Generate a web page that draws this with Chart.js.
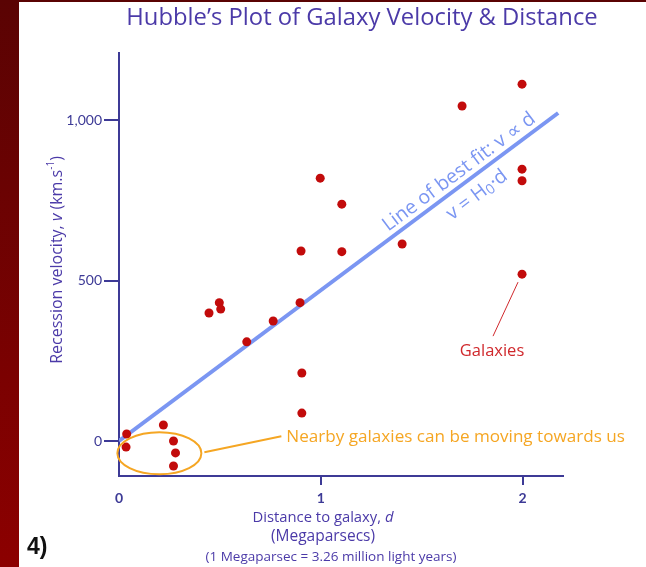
<!DOCTYPE html>
<html>
<head>
<meta charset="utf-8">
<script src="https://cdn.jsdelivr.net/npm/chart.js@4.4.0/dist/chart.umd.min.js"></script>
<style>
  html, body { margin: 0; padding: 0; background: #fff; overflow: hidden; }
  #wrap { position: relative; width: 646px; height: 567px; }
  #side { position: absolute; left: 0; top: 0; width: 19px; height: 567px; background: linear-gradient(#5a0303, #8c0000); }
  #topbar { position: absolute; left: 0; top: 0; width: 646px; height: 2px; background: #5a0303; }
  canvas { position: absolute; left: 0; top: 0; }
</style>
</head>
<body>
<div id="wrap">
  <div id="side"></div>
  <div id="topbar"></div>
  <canvas id="hubble" width="646" height="567"></canvas>
</div>
<script>
// galaxies: distance (Mpc) and recession velocity (km/s)
const galaxyD = [0.038, 0.035, 0.22, 0.27, 0.28, 0.27, 0.446, 0.497, 0.504, 0.633, 0.764, 0.897,
                 0.902, 0.906, 0.906, 0.997, 1.104, 1.104, 1.403, 1.70, 1.997, 1.997, 1.997, 1.997];
const galaxyV = [22, -19, 50, 0, -37, -78, 399, 431, 411, 309, 374, 431,
                 592, 212, 87, 819, 738, 590, 614, 1044, 1112, 847, 811, 520];
const fitD = [0, 2.176];
const fitV = [0, 1022];
const xTicks = [0, 1, 2];
const yTicks = [0, 500, 1000];

const axisColor = "#3d3a96";
const titleColor = "#4b3aa8";
const fitColor = "#7b96f2";
const dotColor = "#c20b0b";
const orange = "#f5a623";
const fam = "'Open Sans', Lato, sans-serif";
const tickFam = "Lato, sans-serif";

const noZero = c => (c.tick && c.tick.value === 0) ? "rgba(0,0,0,0)" : axisColor;

// draws runs of text with different fonts one after another
function runs(ctx, parts, x, y, align) {
  let total = 0;
  parts.forEach(p => { ctx.font = p.font; p.w = ctx.measureText(p.text).width; total += p.w; });
  let cx = align === "center" ? x - total / 2 : x;
  parts.forEach(p => {
    ctx.font = p.font;
    ctx.fillText(p.text, cx, y + (p.dy || 0));
    cx += p.w;
  });
}

const extras = {
  id: "extras",
  afterDraw(chart) {
    const ctx = chart.ctx;
    const xs = chart.scales.x, ys = chart.scales.y;
    const px = v => xs.getPixelForValue(v), py = v => ys.getPixelForValue(v);
    ctx.save();
    ctx.textBaseline = "middle";

    // title
    ctx.fillStyle = titleColor;
    ctx.textAlign = "center";
    ctx.font = "23.8px " + fam;
    ctx.fillText("Hubble\u2019s Plot of Galaxy Velocity & Distance", 362, 18);

    // x axis title
    ctx.textAlign = "left";
    runs(ctx, [
      { text: "Distance to galaxy, ", font: "14.8px " + fam },
      { text: "d", font: "italic 14.8px " + fam }
    ], 323, 518, "center");
    ctx.textAlign = "center";
    ctx.font = "15.5px " + fam;
    ctx.fillText("(Megaparsecs)", 323, 537);
    ctx.font = "13.5px " + fam;
    ctx.fillText("(1 Megaparsec = 3.26 million light years)", 331, 557);

    // y axis title
    ctx.save();
    ctx.translate(57, 260);
    ctx.rotate(-Math.PI / 2);
    ctx.textAlign = "left";
    runs(ctx, [
      { text: "Recession velocity, ", font: "16px " + fam },
      { text: "v", font: "italic 16px " + fam },
      { text: " (km.s", font: "16px " + fam },
      { text: "-1", font: "10px " + fam, dy: -6 },
      { text: ")", font: "16px " + fam }
    ], 0, 0, "center");
    ctx.restore();

    // labels along the best fit line
    const x0 = px(fitD[0]), y0 = py(fitV[0]), x1 = px(fitD[1]), y1 = py(fitV[1]);
    const ang = Math.atan2(y1 - y0, x1 - x0);
    ctx.fillStyle = fitColor;
    ctx.textAlign = "center";
    ctx.save();
    ctx.translate(459, 172);
    ctx.rotate(ang);
    ctx.font = "19.5px " + fam;
    ctx.fillText("Line of best fit: v \u221D d", 0, 0);
    ctx.restore();
    ctx.save();
    ctx.translate(477, 195);
    ctx.rotate(ang);
    ctx.textAlign = "left";
    runs(ctx, [
      { text: "v = H", font: "19.5px " + fam },
      { text: "0", font: "14px " + fam, dy: 4 },
      { text: "\u00B7d", font: "19.5px " + fam }
    ], 0, 0, "center");
    ctx.restore();

    // Galaxies pointer
    const gx = px(galaxyD[23]), gy = py(galaxyV[23]);
    ctx.strokeStyle = "#d0282c";
    ctx.lineWidth = 1;
    ctx.beginPath();
    ctx.moveTo(gx - 29, gy + 62);
    ctx.lineTo(gx - 4, gy + 8);
    ctx.stroke();
    ctx.fillStyle = "#d0282c";
    ctx.textAlign = "center";
    ctx.font = "16.5px " + fam;
    ctx.fillText("Galaxies", gx - 30, gy + 77);

    // nearby galaxies ellipse
    const ex = px(0.2), ey = py(-38);
    ctx.strokeStyle = orange;
    ctx.lineWidth = 2;
    ctx.beginPath();
    ctx.ellipse(ex, ey, 42, 21, 0, 0, Math.PI * 2);
    ctx.stroke();
    ctx.beginPath();
    ctx.moveTo(ex + 45, ey - 1);
    ctx.lineTo(ex + 122, ey - 17);
    ctx.stroke();
    ctx.fillStyle = orange;
    ctx.textAlign = "left";
    ctx.font = "17.1px " + fam;
    ctx.fillText("Nearby galaxies can be moving towards us", ex + 127, ey - 16);

    // panel number
    ctx.fillStyle = "#111";
    ctx.font = "bold 23px 'Liberation Sans', Arial, sans-serif";
    ctx.fillText("4)", 27, 548);
    ctx.restore();
  }
};

new Chart(document.getElementById("hubble"), {
  type: "scatter",
  data: {
    datasets: [
      {
        label: "Galaxies",
        data: galaxyD.map((d, i) => ({ x: d, y: galaxyV[i] })),
        backgroundColor: dotColor,
        borderWidth: 0,
        pointRadius: 4.5,
        order: 1
      },
      {
        label: "Best fit",
        data: fitD.map((d, i) => ({ x: d, y: fitV[i] })),
        showLine: true,
        borderColor: fitColor,
        borderWidth: 4,
        pointRadius: 0,
        order: 2
      }
    ]
  },
  options: {
    responsive: false,
    animation: false,
    layout: { padding: { left: 0, right: 83, top: 53, bottom: 0 } },
    plugins: { legend: { display: false }, tooltip: { enabled: false } },
    scales: {
      x: {
        type: "linear", min: 0, max: 2.2,
        afterBuildTicks: s => { s.ticks = xTicks.map(v => ({ value: v })); },
        afterFit: s => { s.height = 91; },
        border: { display: true, color: axisColor, width: 2 },
        grid: { drawOnChartArea: false, drawTicks: true, tickLength: 9, lineWidth: 2, color: noZero },
        ticks: { color: axisColor, padding: 5, font: { family: tickFam, size: 14, weight: "bold" } }
      },
      y: {
        type: "linear", min: -109, max: 1209,
        afterBuildTicks: s => { s.ticks = yTicks.map(v => ({ value: v })); },
        afterFit: s => { s.width = 119; },
        border: { display: true, color: axisColor, width: 2 },
        grid: { drawOnChartArea: false, drawTicks: true, tickLength: 15, lineWidth: 2, color: axisColor },
        ticks: { color: axisColor, padding: 2, font: { family: tickFam, size: 14 },
                 callback: v => v.toLocaleString("en-US") }
      }
    }
  },
  plugins: [extras]
});
</script>
</body>
</html>
